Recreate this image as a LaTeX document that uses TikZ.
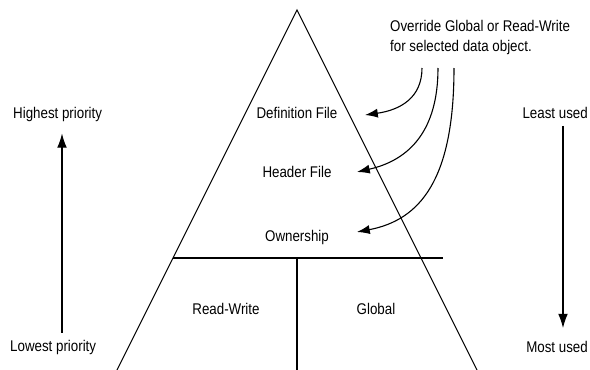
\documentclass[tikz,border=0pt]{standalone}
\usepackage{fontspec}
\setmainfont{Liberation Sans}[FakeStretch=0.86]
\usepackage{tikz}
\usetikzlibrary{calc,positioning,arrows.meta}
\tikzset{
  edge/.style={line width=1.1pt},
  lbl/.style={font=\fontsize{15.5}{20}\selectfont, inner sep=1pt},
  note/.style={lbl, align=left, anchor=west},
  curvearrow/.style={line width=1.1pt, -{Latex[length=4.5mm,width=3.2mm]}},
  updown/.style={line width=1.2pt, -{Latex[length=5mm,width=3.4mm]}}
}

\begin{document}
\begin{tikzpicture}[x=1pt,y=-1pt]
  \useasboundingbox (0,0) rectangle (590,370);
  % pyramid
  \coordinate (top) at (297,10);
  \coordinate (bl) at (116,372);
  \coordinate (br) at (478,372);
  \draw[edge] (bl) -- (top) -- (br);
  \draw[edge] (173,258) -- (443,258);
  \draw[edge] (297,258) -- (297,372);
  % levels
  \node[lbl] (def) at (297,113) {Definition File};
  \node[lbl] (hdr) at (297,172) {Header File};
  \node[lbl] (own) at (297,237) {Ownership};
  \node[lbl] (rw) at (226,309) {Read-Write};
  \node[lbl] (glob) at (376,309) {Global};
  % priority
  \node[lbl, anchor=west] (high) at (12,114) {Highest priority};
  \node[lbl, anchor=west] (low) at (9,347) {Lowest priority};
  \draw[updown] (low.north -| 62,0) ++(0,-6) -- ($(high.south -| 62,0)+(0,11)$);
  % usage
  \node[lbl, anchor=east] (least) at (589,113) {Least used};
  \node[lbl, anchor=east] (most) at (589,347) {Most used};
  \draw[updown] ($(least.south -| 563,0)+(0,6)$) -- ($(most.north -| 563,0)+(0,-12)$);
  % override
  \node[note] (ovr) at (389,37) {Override Global or Read-Write\\for selected data object.};
  \coordinate (s1) at (422,68);
  \coordinate (s2) at (438,68);
  \coordinate (s3) at (454,68);
  \draw[curvearrow] (s1) .. controls (422,98) and (400,110) .. (365,115);
  \draw[curvearrow] (s2) .. controls (438,130) and (410,160) .. (357,172);
  \draw[curvearrow] (s3) .. controls (454,180) and (420,220) .. (357,232);
\end{tikzpicture}
\end{document}
